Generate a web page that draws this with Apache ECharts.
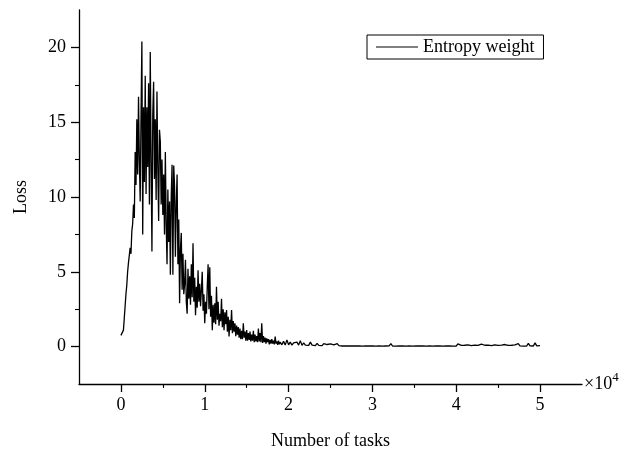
<!DOCTYPE html>
<html>
<head>
<meta charset="utf-8">
<script src="https://cdn.jsdelivr.net/npm/echarts@6/dist/echarts.min.js"></script>
<style>html,body{margin:0;padding:0;background:#fff}#c{width:623px;height:452px}</style>
</head>
<body>
<div id="c"></div>
<script>
// x in units of 10^4 tasks
const denseStart = 0.00, denseStep = 0.01;
const denseLoss = [
 0.75, 0.62, 0.65, 1.1, 1.9, 2.7, 3.5, 4.1, 5.0, 5.6,
 5.7, 6.6, 6.2, 7.7, 8.2, 9.5, 8.6, 13.0, 10.8, 15.2,
 11.5, 16.7, 12.5, 9.7, 15.5, 20.4, 7.5, 16.0, 11.0, 18.1,
 10.2, 16.0, 12.0, 17.6, 9.5, 19.7, 12.5, 6.35, 15.5, 17.7,
 11.2, 15.2, 9.8, 17.05, 12.0, 8.4, 14.5, 13.7, 9.5, 12.5,
 8.8, 11.5, 7.5, 13.0, 8.2, 5.5, 10.5, 7.0, 9.7, 4.8,
 10.0, 12.15, 4.8, 12.1, 10.7, 6.0, 9.5, 11.5, 5.5, 8.5,
 2.9, 6.5, 7.6, 3.8, 6.2, 3.5, 4.2, 5.8, 3.0, 2.2,
 5.2, 3.2, 4.7, 2.8, 5.5, 3.3, 6.9, 3.0, 4.6, 2.1,
 4.0, 2.6, 5.1, 3.0, 4.2, 2.7, 3.8, 5.0, 2.4, 3.5,
 1.56, 3.0, 2.2, 4.0, 5.5, 2.5, 5.3, 2.0, 3.4, 1.1,
 2.8, 1.6, 2.9, 1.5, 4.0, 1.8, 3.0, 1.4, 2.2, 1.7,
 3.2, 1.3, 2.5, 1.1, 2.3, 1.5, 2.45, 1.0, 2.0, 0.67,
 1.8, 1.1, 2.45, 0.9, 1.7, 1.0, 1.56, 0.7, 1.4, 0.8,
 1.3, 0.6, 1.2, 0.5, 1.05, 0.5, 1.56, 0.6, 1.0, 0.4,
 1.1, 0.4, 0.9, 0.45, 1.0, 0.35, 0.8, 0.4, 1.05, 0.3,
 0.8, 0.35, 0.7, 0.3, 1.2, 0.35, 0.9, 0.3, 1.56, 0.25,
 0.7, 0.3, 0.6, 0.2, 0.55, 0.3, 0.5, 0.15, 0.45, 0.2,
 0.5, 0.2, 0.4, 0.15, 0.67, 0.2, 0.35, 0.12, 0.4, 0.15,
 0.3
];
const tailStart = 1.92, tailStep = 0.02;
const tailLoss = [
 0.12, 0.35, 0.1, 0.45, 0.12, 0.3, 0.1, 0.25, 0.12, 0.3,
 0.1, 0.4, 0.08, 0.25, 0.1, 0.2, 0.08, 0.3, 0.1, 0.18,
 0.07, 0.22, 0.08, 0.15, 0.06, 0.2, 0.07, 0.14, 0.05, 0.18,
 0.06, 0.12, 0.05, 0.2, 0.06, 0.1, 0.04, 0.15, 0.05, 0.1,
 0.04, 0.12, 0.05, 0.18, 0.04, 0.1, 0.05, 0.08, 0.03, 0.12,
 0.05, 0.09, 0.04, 0.14, 0.05, 0.08, 0.03, 0.1, 0.05, 0.07,
 0.03, 0.12, 0.04, 0.08, 0.05, 0.2, 0.04, 0.09, 0.03, 0.1,
 0.05, 0.08, 0.04, 0.12, 0.03, 0.09, 0.05, 0.07, 0.03, 0.11,
 0.04, 0.08, 0.05, 0.15, 0.04, 0.07, 0.03, 0.1, 0.05, 0.08,
 0.03, 0.12, 0.04, 0.08, 0.05, 0.1, 0.03, 0.07, 0.04, 0.14,
 0.05, 0.08, 0.03, 0.1, 0.04, 0.18, 0.05, 0.08, 0.03, 0.09,
 0.04, 0.12, 0.05, 0.07, 0.03, 0.1, 0.04, 0.08, 0.05, 0.16,
 0.03, 0.09, 0.04, 0.1, 0.05, 0.07, 0.03, 0.12, 0.04, 0.08,
 0.05, 0.1, 0.03, 0.14, 0.04, 0.08, 0.05, 0.09, 0.03, 0.12,
 0.04, 0.2, 0.05, 0.08, 0.03, 0.1, 0.04, 0.22, 0.05, 0.09,
 0.04, 0.25, 0.05, 0.12, 0.06
];
const xMajorTicks = [0, 1, 2, 3, 4, 5];
const xMinorTicks = [0.5, 1.5, 2.5, 3.5, 4.5];
const yMajorTicks = [0, 5, 10, 15, 20];
const yMinorTicks = [2.5, 7.5, 12.5, 17.5];
const seriesName = 'Entropy weight';

const data = [];
denseLoss.forEach((v, i) => data.push([+(denseStart + i * denseStep).toFixed(2), v]));
tailLoss.forEach((v, i) => data.push([+(tailStart + i * tailStep).toFixed(2), v]));

const FONT = 'Liberation Serif';
const chart = echarts.init(document.getElementById('c'), null, {renderer: 'canvas'});
chart.setOption({
  animation: false,
  backgroundColor: '#fff',
  grid: {left: 79, right: 41, top: 10, bottom: 68, containLabel: false, outerBoundsMode: 'none'},
  legend: {
    left: 367, top: 35,
    data: [{name: seriesName, icon: 'rect'}],
    itemWidth: 42, itemHeight: 1.2, itemGap: 5,
    padding: [3, 9, 3, 9],
    borderColor: '#000', borderWidth: 1,
    itemStyle: {color: '#000', borderWidth: 0},
    lineStyle: {width: 0},
    textStyle: {fontFamily: FONT, fontSize: 18, color: '#000'}
  },
  xAxis: [{
    type: 'value', min: -0.5, max: 5.5,
    name: '×10{sup|4}', nameLocation: 'end', nameGap: 2,
    nameTextStyle: {fontFamily: FONT, fontSize: 18, color: '#000',
      rich: {sup: {fontFamily: FONT, fontSize: 13, color: '#000', padding: [0, 0, 12, 0]}}},
    axisLine: {show: true, onZero: false, lineStyle: {color: '#000', width: 1.3}},
    axisTick: {show: true, inside: false, length: 8, customValues: xMajorTicks, lineStyle: {color: '#000', width: 1.3}},
    axisLabel: {customValues: xMajorTicks, margin: 12, fontFamily: FONT, fontSize: 18, color: '#000'},
    splitLine: {show: false}
  }, {
    type: 'value', min: -0.5, max: 5.5, position: 'bottom',
    axisLine: {show: false, onZero: false},
    axisTick: {show: true, inside: false, length: 4, customValues: xMinorTicks, lineStyle: {color: '#000', width: 1.1}},
    axisLabel: {show: false},
    splitLine: {show: false}
  }, {
    type: 'value', min: -0.5, max: 5.5, position: 'bottom',
    name: 'Number of tasks', nameLocation: 'middle', nameGap: 48,
    nameTextStyle: {fontFamily: FONT, fontSize: 18, color: '#000'},
    axisLine: {show: false, onZero: false}, axisTick: {show: false}, axisLabel: {show: false}, splitLine: {show: false}
  }],
  yAxis: [{
    type: 'value', min: -2.5, max: 22.5,
    name: 'Loss', nameLocation: 'middle', nameGap: 49,
    nameTextStyle: {fontFamily: FONT, fontSize: 18, color: '#000'},
    axisLine: {show: true, onZero: false, lineStyle: {color: '#000', width: 1.3}},
    axisTick: {show: true, inside: false, length: 8, customValues: yMajorTicks, lineStyle: {color: '#000', width: 1.3}},
    axisLabel: {customValues: yMajorTicks, margin: 13, fontFamily: FONT, fontSize: 18, color: '#000'},
    splitLine: {show: false}
  }, {
    type: 'value', min: -2.5, max: 22.5, position: 'left',
    axisLine: {show: false, onZero: false},
    axisTick: {show: true, inside: false, length: 4, customValues: yMinorTicks, lineStyle: {color: '#000', width: 1.1}},
    axisLabel: {show: false},
    splitLine: {show: false}
  }],
  series: [{
    name: seriesName, type: 'line', data: data,
    xAxisIndex: 0, yAxisIndex: 0,
    symbol: 'none', showSymbol: false,
    lineStyle: {color: '#000', width: 1.3},
    itemStyle: {color: '#000'}
  }]
});
</script>
</body>
</html>
